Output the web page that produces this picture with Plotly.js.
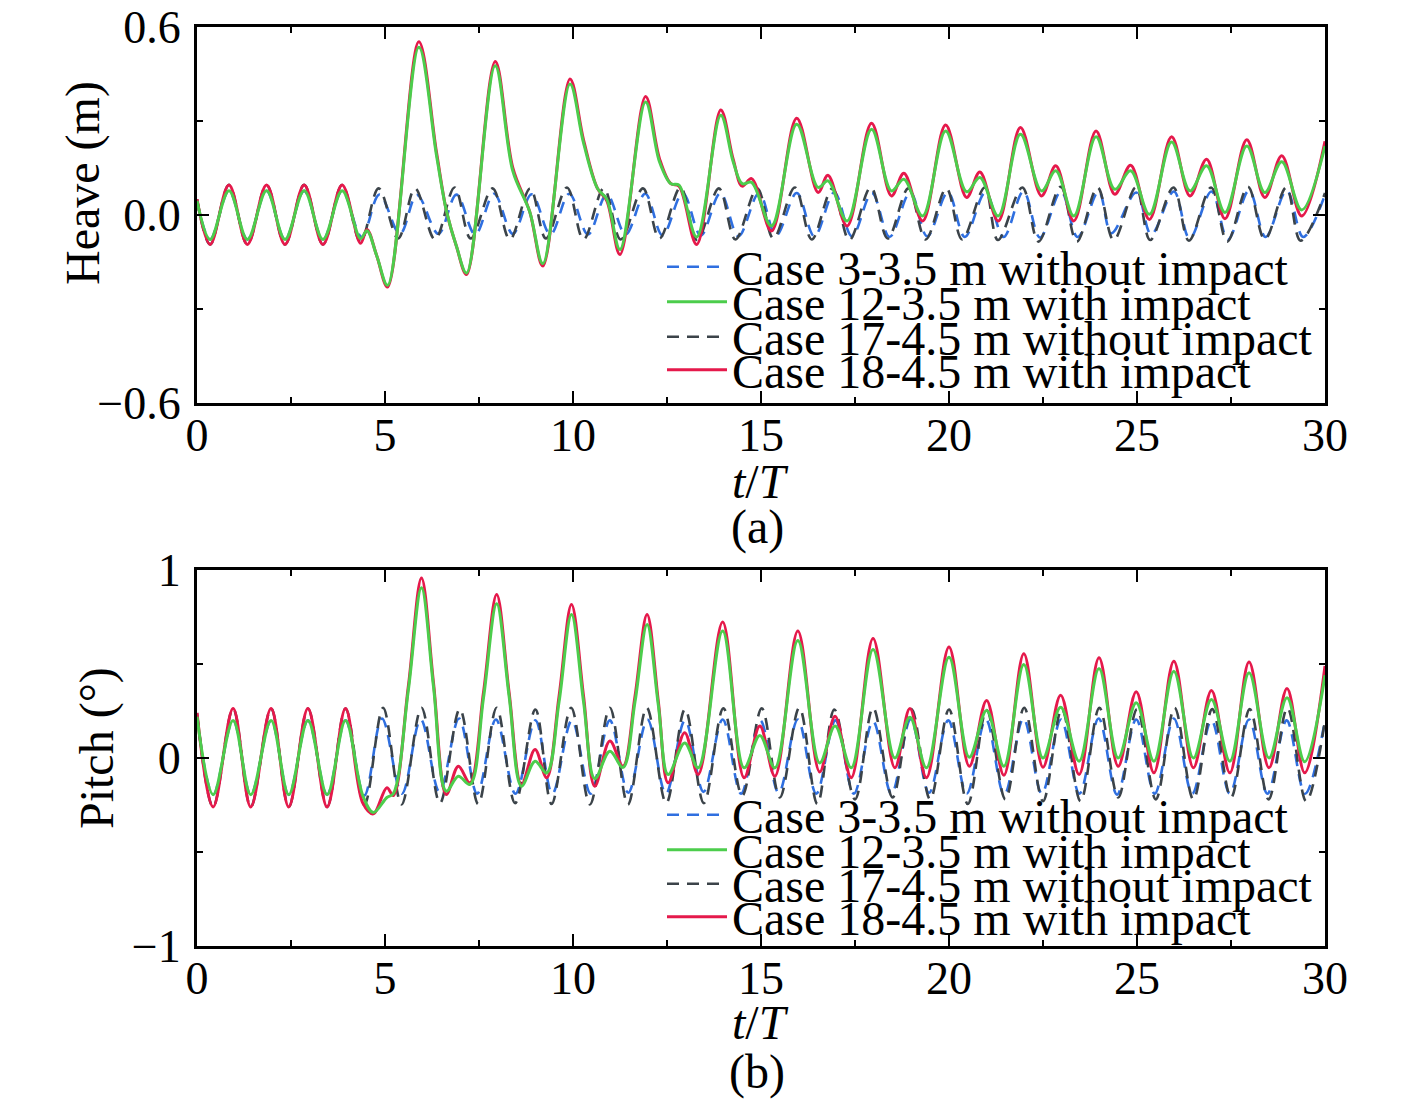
<!DOCTYPE html>
<html>
<head>
<meta charset="utf-8">
<script src="https://cdn.plot.ly/plotly-3.0.1.min.js"></script>
<style>html,body{margin:0;padding:0;background:#fff;}#chart{width:1418px;height:1102px;}</style>
</head>
<body>
<div id="chart"></div>
<script>
// ---------- Heave (m) ----------
const heaveImpactT = [0, 0.35, 0.85, 1.34, 1.85, 2.34, 2.85, 3.35, 3.86, 4.35, 4.52, 4.78, 5.07, 5.9, 6.37, 6.64, 6.9, 7.17, 7.93, 8.4, 8.85, 9.2, 9.92, 10.28, 10.65, 10.9, 11.25, 11.93, 12.3, 12.6, 12.82, 13.29, 13.93, 14.26, 14.5, 14.75, 15.28, 15.95, 16.52, 16.78, 17.29, 17.94, 18.47, 18.8, 19.3, 19.91, 20.47, 20.82, 21.31, 21.9, 22.46, 22.84, 23.32, 23.91, 24.41, 24.83, 25.33, 25.92, 26.41, 26.85, 27.34, 27.92, 28.4, 28.85, 29.38, 30];
const heaveCase18 = [0.05, -0.094, 0.096, -0.094, 0.096, -0.094, 0.096, -0.094, 0.096, -0.09, -0.046, -0.13, -0.23, 0.553, 0.2, 0.01, -0.1, -0.19, 0.49, 0.15, 0.01, -0.163, 0.434, 0.24, 0.085, 0.045, -0.126, 0.378, 0.18, 0.1, 0.092, -0.094, 0.335, 0.178, 0.092, 0.116, -0.051, 0.309, 0.072, 0.127, -0.035, 0.293, 0.061, 0.133, -0.019, 0.287, 0.056, 0.137, -0.019, 0.279, 0.061, 0.157, -0.019, 0.268, 0.066, 0.159, -0.014, 0.25, 0.061, 0.178, -0.012, 0.24, 0.056, 0.189, -0.003, 0.235];
const heaveCase12 = [0.045, -0.078, 0.077, -0.078, 0.077, -0.078, 0.077, -0.078, 0.077, -0.075, -0.05, -0.13, -0.224, 0.535, 0.19, 0.01, -0.1, -0.185, 0.476, 0.14, 0.01, -0.155, 0.418, 0.23, 0.085, 0.05, -0.11, 0.361, 0.17, 0.1, 0.095, -0.07, 0.318, 0.17, 0.1, 0.104, -0.035, 0.29, 0.088, 0.109, -0.019, 0.274, 0.077, 0.114, -0.003, 0.268, 0.074, 0.12, -0.003, 0.258, 0.077, 0.141, -0.003, 0.25, 0.082, 0.141, 0.002, 0.233, 0.077, 0.157, 0.008, 0.22, 0.072, 0.17, 0.016, 0.22];
const heaveCase17T = [0, 0.35, 0.85, 1.34, 1.85, 2.34, 2.85, 3.35, 3.86, 4.35, 4.83, 5.35, 5.8, 6.33, 6.85, 7.28, 7.86, 8.32, 8.86, 9.28, 9.84, 10.28, 10.82, 11.27, 11.86, 12.3, 12.86, 13.3, 13.88, 14.32, 14.9, 15.33, 15.9, 16.35, 16.9, 17.35, 17.92, 18.37, 18.92, 19.38, 19.93, 20.35, 20.95, 21.3, 21.95, 22.38, 22.97, 23.4, 23.95, 24.38, 24.97, 25.35, 25.97, 26.38, 26.97, 27.4, 27.95, 28.4, 28.97, 29.35, 30];
const heaveCase17 = [0.05, -0.094, 0.096, -0.094, 0.096, -0.094, 0.096, -0.094, 0.096, -0.085, 0.085, -0.075, 0.085, -0.078, 0.088, -0.075, 0.085, -0.078, 0.085, -0.075, 0.088, -0.078, 0.085, -0.078, 0.085, -0.075, 0.088, -0.08, 0.085, -0.078, 0.085, -0.075, 0.088, -0.078, 0.085, -0.08, 0.088, -0.075, 0.085, -0.078, 0.085, -0.078, 0.088, -0.08, 0.088, -0.085, 0.09, -0.085, 0.088, -0.08, 0.088, -0.08, 0.088, -0.082, 0.088, -0.085, 0.09, -0.078, 0.088, -0.082, 0.07];
const heaveCase3T = [0, 0.35, 0.85, 1.34, 1.85, 2.34, 2.85, 3.35, 3.86, 4.38, 4.85, 5.4, 5.85, 6.42, 6.9, 7.4, 7.9, 8.4, 8.9, 9.4, 9.9, 10.4, 10.9, 11.4, 11.92, 12.38, 12.92, 13.4, 13.92, 14.4, 14.95, 15.4, 15.95, 16.42, 16.95, 17.42, 17.95, 18.42, 18.97, 19.42, 19.97, 20.42, 20.97, 21.45, 21.98, 22.42, 22.98, 23.42, 23.98, 24.32, 24.98, 25.38, 25.98, 26.4, 26.98, 27.42, 27.98, 28.42, 28.98, 29.42, 30];
const heaveCase3 = [0.045, -0.078, 0.077, -0.078, 0.077, -0.078, 0.077, -0.078, 0.077, -0.07, 0.065, -0.06, 0.064, -0.06, 0.065, -0.062, 0.068, -0.06, 0.066, -0.062, 0.068, -0.062, 0.066, -0.062, 0.068, -0.065, 0.07, -0.065, 0.07, -0.068, 0.07, -0.065, 0.07, -0.068, 0.072, -0.068, 0.07, -0.07, 0.072, -0.068, 0.072, -0.07, 0.072, -0.07, 0.075, -0.072, 0.075, -0.07, 0.075, -0.058, 0.072, -0.062, 0.075, -0.075, 0.075, -0.078, 0.078, -0.07, 0.078, -0.07, 0.065];

// ---------- Pitch (°) ----------
const pitchImpactT = [0, 0.43, 0.96, 1.43, 1.97, 2.44, 2.95, 3.46, 3.95, 4.41, 4.69, 5.05, 5.22, 5.62, 5.97, 6.29, 6.63, 6.95, 7.26, 7.62, 7.97, 8.3, 8.63, 8.99, 9.3, 9.63, 9.96, 10.28, 10.58, 10.98, 11.33, 11.65, 11.97, 12.27, 12.53, 12.97, 13.33, 13.98, 14.55, 14.97, 15.37, 15.98, 16.56, 16.97, 17.4, 17.98, 18.56, 18.96, 19.4, 20.0, 20.54, 21.0, 21.46, 21.99, 22.5, 22.97, 23.46, 23.99, 24.5, 24.98, 25.45, 25.98, 26.5, 26.98, 27.47, 27.98, 28.51, 28.99, 29.46, 30];
const pitchCase18 = [0.24, -0.26, 0.263, -0.26, 0.263, -0.26, 0.263, -0.26, 0.263, -0.24, -0.297, -0.158, -0.2, 0.38, 0.958, 0.4, -0.194, -0.044, -0.132, 0.35, 0.87, 0.35, -0.141, 0.045, -0.105, 0.33, 0.816, 0.33, -0.15, 0.09, -0.044, 0.33, 0.763, 0.3, -0.132, 0.134, -0.088, 0.724, -0.105, 0.17, -0.097, 0.675, -0.074, 0.222, -0.105, 0.636, -0.052, 0.263, -0.105, 0.59, -0.044, 0.306, -0.092, 0.554, -0.049, 0.334, -0.088, 0.533, -0.044, 0.352, -0.079, 0.515, -0.052, 0.359, -0.079, 0.51, -0.052, 0.37, -0.079, 0.49];
const pitchCase12 = [0.22, -0.195, 0.2, -0.195, 0.2, -0.195, 0.2, -0.195, 0.2, -0.2, -0.29, -0.21, -0.19, 0.36, 0.905, 0.38, -0.176, -0.097, -0.14, 0.32, 0.82, 0.33, -0.15, -0.017, -0.08, 0.3, 0.763, 0.3, -0.11, 0.036, -0.05, 0.3, 0.71, 0.28, -0.088, 0.08, -0.052, 0.675, -0.052, 0.12, -0.052, 0.625, -0.026, 0.17, -0.052, 0.577, 0.0, 0.217, -0.052, 0.536, 0.004, 0.253, -0.044, 0.497, 0.0, 0.27, -0.017, 0.476, 0.0, 0.294, -0.017, 0.462, 0.0, 0.311, -0.017, 0.453, 0.0, 0.32, -0.02, 0.44];
const pitchCase17T = [0, 0.43, 0.96, 1.43, 1.97, 2.44, 2.95, 3.46, 3.95, 4.45, 4.95, 5.44, 5.97, 6.46, 6.99, 7.48, 7.97, 8.46, 9.0, 9.43, 9.95, 10.45, 10.98, 11.46, 11.96, 12.48, 12.98, 13.48, 14.0, 14.5, 15.02, 15.5, 16.02, 16.5, 16.95, 17.5, 17.98, 18.5, 19.0, 19.5, 20.0, 20.5, 21.0, 21.5, 22.0, 22.5, 23.0, 23.5, 24.0, 24.5, 25.0, 25.5, 26.0, 26.5, 27.0, 27.5, 28.0, 28.5, 29.0, 29.5, 30];
const pitchCase17 = [0.24, -0.26, 0.263, -0.26, 0.263, -0.26, 0.263, -0.26, 0.263, -0.25, 0.267, -0.247, 0.267, -0.24, 0.26, -0.245, 0.267, -0.24, 0.258, -0.245, 0.267, -0.247, 0.267, -0.247, 0.267, -0.24, 0.26, -0.24, 0.265, -0.2, 0.265, -0.21, 0.267, -0.245, 0.258, -0.22, 0.267, -0.21, 0.26, -0.22, 0.258, -0.245, 0.255, -0.22, 0.267, -0.23, 0.26, -0.23, 0.267, -0.21, 0.26, -0.22, 0.267, -0.22, 0.26, -0.21, 0.26, -0.22, 0.267, -0.23, 0.2];
const pitchCase3T = [0, 0.43, 0.96, 1.43, 1.97, 2.44, 2.95, 3.46, 3.95, 4.45, 4.92, 5.45, 5.95, 6.45, 6.97, 7.45, 7.95, 8.47, 9.0, 9.45, 9.97, 10.47, 10.98, 11.47, 11.98, 12.47, 12.98, 13.47, 13.98, 14.47, 14.98, 15.47, 15.98, 16.47, 16.98, 17.47, 17.98, 18.47, 18.98, 19.47, 19.98, 20.47, 20.98, 21.47, 21.98, 22.47, 22.98, 23.47, 23.98, 24.47, 24.98, 25.47, 25.98, 26.47, 26.98, 27.47, 27.98, 28.47, 28.98, 29.47, 30];
const pitchCase3 = [0.22, -0.195, 0.2, -0.195, 0.2, -0.195, 0.2, -0.195, 0.2, -0.2, 0.21, -0.19, 0.205, -0.18, 0.21, -0.19, 0.205, -0.19, 0.2, -0.19, 0.2, -0.19, 0.2, -0.185, 0.205, -0.19, 0.2, -0.18, 0.205, -0.19, 0.2, -0.185, 0.205, -0.19, 0.2, -0.19, 0.195, -0.19, 0.205, -0.185, 0.2, -0.19, 0.205, -0.195, 0.21, -0.19, 0.205, -0.19, 0.21, -0.195, 0.205, -0.19, 0.21, -0.19, 0.2, -0.19, 0.205, -0.19, 0.2, -0.19, 0.2];

// ---------- labels ----------
const seriesNames = ['Case 3-3.5 m without impact', 'Case 12-3.5 m with impact', 'Case 17-4.5 m without impact', 'Case 18-4.5 m with impact'];
const xTickVals = [0, 5, 10, 15, 20, 25, 30];
const heaveTickVals = [-0.6, 0.0, 0.6];
const pitchTickVals = [-1, 0, 1];

const FONT = '"Liberation Serif", "Times New Roman", Times, serif';
const C_BLUE = '#2f6fe0', C_GREEN = '#4ccd4c', C_GRAY = '#3b4349', C_RED = '#e5194b';
const DASH = '12px,8px';

function tr(x, y, name, color, dashed, xa, ya, leg) {
  return {
    x: x, y: y, name: name, type: 'scatter', mode: 'lines',
    xaxis: xa, yaxis: ya, legend: leg, showlegend: true,
    line: {color: color, width: dashed ? 2.6 : 3, dash: dashed ? DASH : 'solid', shape: 'spline', smoothing: 1}
  };
}

const data = [
  tr(heaveCase3T, heaveCase3, seriesNames[0], C_BLUE, true, 'x', 'y', 'legend'),
  tr(heaveCase17T, heaveCase17, seriesNames[2], C_GRAY, true, 'x', 'y', 'legend3'),
  tr(heaveImpactT, heaveCase18, seriesNames[3], C_RED, false, 'x', 'y', 'legend4'),
  tr(heaveImpactT, heaveCase12, seriesNames[1], C_GREEN, false, 'x', 'y', 'legend2'),
  tr(pitchCase3T, pitchCase3, seriesNames[0], C_BLUE, true, 'x2', 'y2', 'legend5'),
  tr(pitchCase17T, pitchCase17, seriesNames[2], C_GRAY, true, 'x2', 'y2', 'legend7'),
  tr(pitchImpactT, pitchCase18, seriesNames[3], C_RED, false, 'x2', 'y2', 'legend8'),
  tr(pitchImpactT, pitchCase12, seriesNames[1], C_GREEN, false, 'x2', 'y2', 'legend6')
];

// page geometry (px) -> paper
const L = 197, R = 1325, T = 27, B = 946;
const px = v => (v - L) / (R - L);
const py = v => (B - v) / (B - T);

function xax(anchor) {
  return {
    anchor: anchor, range: [0, 30], tickvals: xTickVals, ticktext: xTickVals.map(String),
    ticks: 'inside', ticklen: 12, tickwidth: 2.5, tickcolor: '#000',
    showline: true, linewidth: 3, linecolor: '#000', mirror: 'ticks',
    showgrid: false, zeroline: false,
    minor: {dtick: 2.5, tick0: 0, ticks: 'inside', ticklen: 6, tickwidth: 2.5, tickcolor: '#000', showgrid: false},
    tickfont: {family: FONT, size: 46, color: '#000'}, ticklabelstandoff: -10
  };
}
function yax(anchor, domain, range, vals, minorDt, fmt) {
  return {
    anchor: anchor, domain: domain, range: range, tickvals: vals, tickformat: fmt,
    ticks: 'inside', ticklen: 12, tickwidth: 2.5, tickcolor: '#000',
    showline: true, linewidth: 3, linecolor: '#000', mirror: 'ticks',
    showgrid: false, zeroline: false,
    minor: {dtick: minorDt, tick0: 0, ticks: 'inside', ticklen: 6, tickwidth: 2.5, tickcolor: '#000', showgrid: false},
    tickfont: {family: FONT, size: 46, color: '#000'}, ticklabelstandoff: 4
  };
}

function leg(yPix) {
  return {
    x: px(662), y: py(yPix), xanchor: 'left', yanchor: 'middle',
    bgcolor: 'rgba(0,0,0,0)', borderwidth: 0, itemwidth: 60,
    font: {family: FONT, size: 48, color: '#000'}
  };
}

const annFont = {family: FONT, size: 48, color: '#000'};
function ann(text, x, y, angle) {
  return {text: text, xref: 'paper', yref: 'paper', x: px(x), y: py(y), xanchor: 'center', yanchor: 'middle',
    showarrow: false, textangle: angle || 0, font: annFont};
}

const layout = {
  width: 1418, height: 1102,
  margin: {l: L, r: 1418 - R, t: T, b: 1102 - B, pad: 0},
  paper_bgcolor: '#fff', plot_bgcolor: '#fff',
  font: {family: FONT, color: '#000'},
  showlegend: true,
  xaxis: xax('y'),
  yaxis: yax('x', [py(403), 1], [-0.6, 0.6], heaveTickVals, 0.3, '.1f'),
  xaxis2: xax('y2'),
  yaxis2: yax('x2', [0, py(570)], [-1, 1], pitchTickVals, 0.5, 'd'),
  legend: leg(267), legend2: leg(302), legend3: leg(337), legend4: leg(370),
  legend5: leg(815), legend6: leg(850), legend7: leg(884), legend8: leg(917),
  annotations: [
    ann('Heave (m)', 83, 183, -90),
    ann('Pitch (°)', 97, 748, -90),
    ann('<i>t</i>/<i>T</i>', 760, 481),
    ann('(a)', 757, 527),
    ann('<i>t</i>/<i>T</i>', 760, 1022),
    ann('(b)', 757, 1072)
  ]
};

Plotly.newPlot('chart', data, layout, {displayModeBar: false, staticPlot: true});
</script>
</body>
</html>
